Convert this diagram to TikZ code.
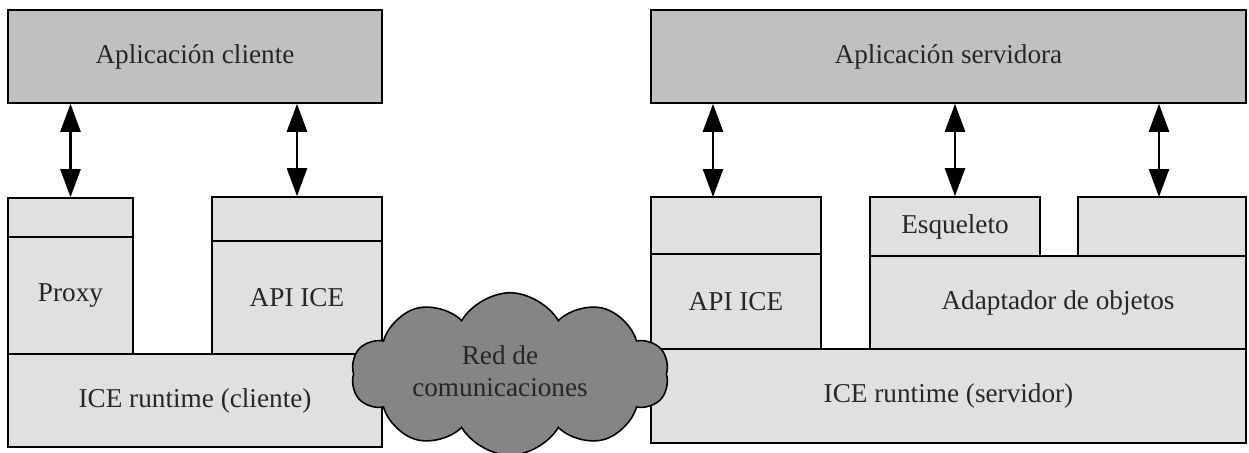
\documentclass[tikz,border=0pt]{standalone}
\usepackage{fontspec}
\setmainfont{Liberation Serif}
\usepackage{tikz}
\usetikzlibrary{arrows.meta,shapes.symbols}

\definecolor{appgray}{HTML}{C0C0C0}
\definecolor{layergray}{HTML}{E0E0E0}
\definecolor{cloudgray}{HTML}{858585}

\begin{document}
\begin{tikzpicture}[x=0.02cm, y=-0.02cm,
    every node/.style={font=\fontsize{15.5}{18}\selectfont, text=black!85},
    appbox/.style={draw, line width=0.9pt, fill=appgray, inner sep=0pt},
    layer/.style={draw, line width=0.9pt, fill=layergray, inner sep=0pt},
    dblarrow/.style={line width=1.4pt,
      {Triangle[length=0.56cm, width=0.4cm]}-{Triangle[length=0.56cm, width=0.4cm]}}]
  \useasboundingbox (0,0) rectangle (1249,453);

  % cliente
  \node[appbox, minimum width=7.48cm, minimum height=1.86cm] (appc) at (195,56.5) {Aplicación cliente};
  \node[layer, minimum width=2.5cm, minimum height=0.78cm] (proxytop) at (70.5,217.5) {};
  \node[layer, minimum width=2.5cm, minimum height=2.34cm] (proxy) at (70.5,295.5) {Proxy};
  \node[layer, minimum width=3.4cm, minimum height=0.88cm] (apictop) at (297,219) {};
  \node[layer, minimum width=3.4cm, minimum height=2.26cm] (apic) at (297,297.5) {API ICE};
  \node[layer, minimum width=7.48cm, minimum height=1.86cm] (runc) at (195,400.5) {ICE runtime (cliente)};

  % servidor
  \node[appbox, minimum width=11.9cm, minimum height=1.86cm] (apps) at (948.5,56.5) {Aplicación servidora};
  \node[layer, minimum width=3.4cm, minimum height=1.14cm] (apistop) at (736,225.5) {};
  \node[layer, minimum width=3.4cm, minimum height=1.9cm] (apis) at (736,301.5) {API ICE};
  \node[layer, minimum width=3.4cm, minimum height=1.18cm] (skel) at (955,226.5) {Esqueleto};
  \node[layer, minimum width=3.36cm, minimum height=1.18cm] (servtop) at (1162,226.5) {};
  \node[layer, minimum width=7.52cm, minimum height=1.86cm] (adapt) at (1058,302.5) {Adaptador de objetos};
  \node[layer, minimum width=11.9cm, minimum height=1.88cm] (runs) at (948.5,396) {ICE runtime (servidor)};

  % flechas
  \coordinate (a1) at (713,197);
  \coordinate (a3) at (1159,197);
  \draw[dblarrow] (appc.south -| proxytop.north) -- (proxytop.north);
  \draw[dblarrow] (appc.south -| apictop.north) -- (apictop.north);
  \draw[dblarrow] (apps.south -| a1) -- (a1);
  \draw[dblarrow] (apps.south -| skel.north) -- (skel.north);
  \draw[dblarrow] (apps.south -| a3) -- (a3);

  % red
  \node[cloud, cloud puffs=10, cloud puff arc=120, aspect=2, cloud ignores aspect,
        draw, line width=0.9pt, fill=cloudgray, inner sep=0pt,
        minimum width=6.35cm, minimum height=3.25cm] (red) at (510,374) {};
  \node[align=center] (redtxt) at (500,371) {Red de\\comunicaciones};
\end{tikzpicture}
\end{document}
